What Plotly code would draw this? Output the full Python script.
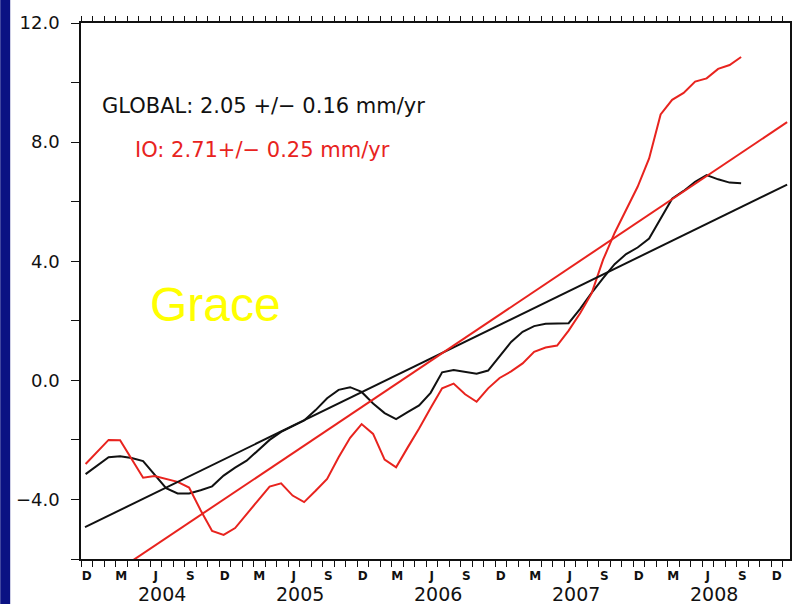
import plotly.graph_objects as go

# ---- data (months since 1 Dec 2003; points near mid-month) ----
month_index = list(range(58))
global_msl = [-3.15, -2.86, -2.58, -2.55, -2.61, -2.71, -3.18, -3.62, -3.80, -3.80,
              -3.69, -3.56, -3.20, -2.93, -2.70, -2.35, -2.00, -1.73, -1.55, -1.35,
              -1.00, -0.60, -0.32, -0.23, -0.39, -0.78, -1.10, -1.30, -1.07, -0.84,
              -0.42, 0.27, 0.35, 0.28, 0.22, 0.33, 0.81, 1.29, 1.63, 1.82,
              1.90, 1.92, 1.92, 2.40, 2.94, 3.43, 3.90, 4.24, 4.46, 4.76,
              5.44, 6.10, 6.36, 6.67, 6.89, 6.75, 6.64, 6.62]
io_msl = [-2.81, -2.39, -2.00, -2.01, -2.65, -3.27, -3.21, -3.30, -3.41, -3.60,
          -4.36, -5.06, -5.19, -4.96, -4.51, -4.03, -3.57, -3.46, -3.87, -4.09,
          -3.71, -3.31, -2.58, -1.93, -1.47, -1.80, -2.66, -2.92, -2.26, -1.62,
          -0.93, -0.27, -0.11, -0.47, -0.72, -0.27, 0.08, 0.30, 0.57, 0.96,
          1.10, 1.17, 1.67, 2.25, 2.92, 4.05, 4.95, 5.70, 6.50, 7.45,
          8.93, 9.42, 9.65, 10.03, 10.14, 10.46, 10.59, 10.86]
trend_x = [0.35, 61.4]
global_trend = [-4.93, 6.57]
io_trend = [-7.12, 8.67]

month_labels = ["D", "M", "J", "S"]
year_labels = ["2004", "2005", "2006", "2007", "2008"]
year_mid_month = [7, 19, 31, 43, 55]
y_major = [-4, 0, 4, 8, 12]
y_minor = [-6, -2, 2, 6, 10]

global_text = "GLOBAL: 2.05 +/\u2212 0.16 mm/yr"
io_text = "IO: 2.71+/\u2212 0.25 mm/yr"

BLACK = "#111111"
RED = "#e8231e"
FONT = "DejaVu Sans"

x_offset = 0.4
xs = [m + x_offset for m in month_index]

label_vals = [i + 0.5 for i in range(0, 61, 3)]
label_text = [month_labels[k % 4] for k in range(len(label_vals))]
boundaries = list(range(0, 62))

fig = go.Figure()
fig.add_trace(go.Scatter(x=xs, y=global_msl, mode="lines",
                         line=dict(color=BLACK, width=2), showlegend=False))
fig.add_trace(go.Scatter(x=xs, y=io_msl, mode="lines",
                         line=dict(color=RED, width=2), showlegend=False))
fig.add_trace(go.Scatter(x=trend_x, y=global_trend, mode="lines", xaxis="x2",
                         line=dict(color=BLACK, width=2), showlegend=False))
fig.add_trace(go.Scatter(x=trend_x, y=io_trend, mode="lines", xaxis="x2",
                         line=dict(color=RED, width=2), showlegend=False))

xr = [0, 61.65]
fig.update_layout(
    width=796, height=604,
    margin=dict(l=81, r=4, t=23, b=45),
    paper_bgcolor="white", plot_bgcolor="white",
    font=dict(family=FONT, color=BLACK),
    xaxis=dict(range=xr, showgrid=False, zeroline=False,
               showline=True, linecolor=BLACK, linewidth=1.5,
               tickmode="array", tickvals=label_vals, ticktext=label_text,
               ticks="", ticklabelstandoff=5,
               tickfont=dict(family=FONT, size=12, color=BLACK, weight="bold"),
               minor=dict(tickmode="array", tickvals=boundaries, ticks="outside",
                          ticklen=6, tickwidth=1.3, tickcolor=BLACK, showgrid=False)),
    xaxis2=dict(range=xr, overlaying="x", side="top", anchor="y",
                showgrid=False, zeroline=False, showline=True,
                linecolor=BLACK, linewidth=1.5,
                tickmode="array", tickvals=boundaries, ticks="outside",
                ticklen=5, tickwidth=1.3, tickcolor=BLACK, showticklabels=False),
    yaxis=dict(range=[-6, 12], showgrid=False, zeroline=False,
               showline=True, linecolor=BLACK, linewidth=1.5, mirror=True,
               tickmode="array", tickvals=y_major, tickformat=".1f",
               ticks="outside", ticklen=8, tickwidth=1.3, tickcolor=BLACK,
               ticklabelstandoff=8,
               tickfont=dict(family=FONT, size=18, color=BLACK),
               minor=dict(tickmode="array", tickvals=y_minor, ticks="outside",
                          ticklen=8, tickwidth=1.3, tickcolor=BLACK, showgrid=False)),
)

annotations = []
for yl, ym in zip(year_labels, year_mid_month):
    annotations.append(dict(x=ym, y=-0.0655, xref="x", yref="paper", text=yl,
                            showarrow=False, xanchor="center", yanchor="middle",
                            font=dict(family=FONT, size=19, color=BLACK)))
annotations.append(dict(x=0.0267, y=0.845, xref="paper", yref="paper", text=global_text,
                        showarrow=False, xanchor="left", yanchor="middle",
                        font=dict(family=FONT, size=21, color=BLACK)))
annotations.append(dict(x=0.0731, y=0.763, xref="paper", yref="paper", text=io_text,
                        showarrow=False, xanchor="left", yanchor="middle",
                        font=dict(family=FONT, size=21, color=RED)))
annotations.append(dict(x=0.189, y=0.474, xref="paper", yref="paper", text="Grace",
                        showarrow=False, xanchor="center", yanchor="middle",
                        font=dict(family="Liberation Sans", size=48, color="#ffff00")))
fig.update_layout(annotations=annotations)

fig.add_shape(type="rect", xref="paper", yref="paper",
              x0=-81 / 711, x1=(10 - 81) / 711, y0=-45 / 536, y1=1 + 23 / 536,
              fillcolor="#0b1283", line=dict(width=0), layer="below")

fig.write_html("out.html")
